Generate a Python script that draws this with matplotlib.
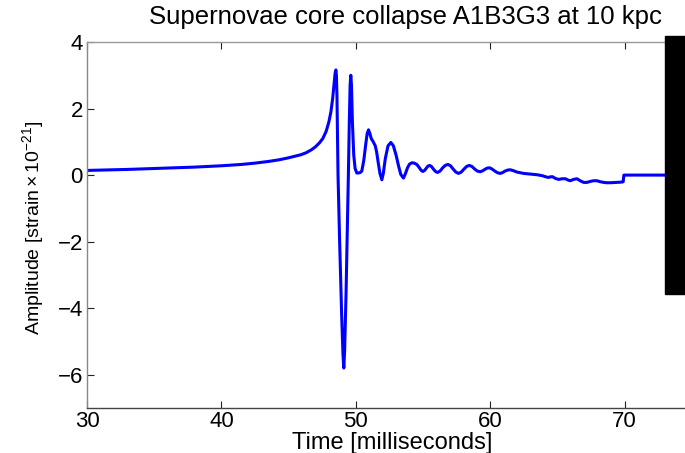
import numpy as np
import matplotlib
matplotlib.use("Agg")
import matplotlib.pyplot as plt
from matplotlib.patches import Rectangle

plt.rcParams["font.family"] = ["Liberation Sans", "DejaVu Sans"]
plt.rcParams["mathtext.fontset"] = "custom"
plt.rcParams["mathtext.rm"] = "Liberation Sans"
plt.rcParams["mathtext.default"] = "regular"

# waveform (time in ms, amplitude in 1e-21 strain)
time_ms = [
    30.0, 33.0, 36.0, 38.0, 40.0, 41.5, 42.5, 43.5, 44.3, 45.0, 45.5, 45.9,
    46.3, 46.7, 47.0, 47.3, 47.55, 47.8, 48.0, 48.15, 48.28, 48.38,
    48.46, 48.52, 48.56, 48.6, 48.64, 48.68, 48.8, 48.95, 49.05,
    49.11, 49.17, 49.28, 49.38, 49.45, 49.52, 49.58, 49.63, 49.68, 49.75,
    49.85, 49.95, 50.08, 50.3, 50.45, 50.6, 50.75, 50.85, 50.95, 51.05,
    51.15, 51.3, 51.45, 51.55, 51.68, 51.8, 51.94, 52.05, 52.2, 52.4, 52.61,
    52.8, 53.0, 53.2, 53.35, 53.55, 53.7, 53.85, 54.0, 54.17, 54.35, 54.54,
    54.7, 54.85, 54.99, 55.12, 55.25, 55.37, 55.49, 55.63, 55.78, 55.93,
    56.08, 56.27, 56.45, 56.65, 56.86, 57.05, 57.25, 57.45, 57.65, 57.85,
    58.05, 58.25, 58.44, 58.65, 58.85, 59.05, 59.26, 59.45, 59.6, 59.78,
    59.96, 60.15, 60.35, 60.55, 60.75, 60.95, 61.1, 61.3, 61.5, 61.75, 62.0,
    62.5, 63.0, 63.5, 63.9, 64.2, 64.35, 64.5, 64.65, 64.85, 65.1, 65.35,
    65.6, 65.8, 65.96, 66.2, 66.46, 66.7, 66.96, 67.2, 67.45, 67.7, 67.95,
    68.2, 68.45, 68.7, 68.94, 69.4, 69.81, 69.9, 69.95, 75.0,
]
amplitude = [
    0.14, 0.17, 0.21, 0.24, 0.28, 0.32, 0.36, 0.41, 0.46, 0.52, 0.57, 0.61,
    0.67, 0.76, 0.85, 0.97, 1.1, 1.32, 1.6, 1.9, 2.3, 2.7,
    3.05, 3.16, 3.0, 2.4, 1.2, 0.0, -2.0, -4.2, -5.4,
    -5.8, -5.3, -3.5, -1.5, 0.0, 1.6, 2.7, 3.0, 2.7, 1.6,
    0.6, 0.2, 0.06, 0.07, 0.12, 0.45, 0.95, 1.25, 1.36, 1.25,
    1.1, 1.0, 0.88, 0.7, 0.35, 0.05, -0.14, 0.05, 0.5, 0.88, 0.98,
    0.88, 0.6, 0.25, 0.02, -0.09, 0.05, 0.22, 0.33, 0.37, 0.36, 0.32,
    0.24, 0.15, 0.11, 0.14, 0.21, 0.27, 0.29, 0.26, 0.18, 0.11,
    0.08, 0.12, 0.21, 0.29, 0.32, 0.28, 0.18, 0.09, 0.05, 0.09,
    0.18, 0.26, 0.29, 0.26, 0.18, 0.12, 0.1, 0.13, 0.17, 0.21,
    0.22, 0.18, 0.12, 0.07, 0.05, 0.08, 0.12, 0.15, 0.16, 0.13, 0.09,
    0.05, 0.03, 0.01, -0.02, -0.06, -0.07, -0.05, -0.05, -0.1, -0.13, -0.11,
    -0.11, -0.15, -0.17, -0.13, -0.11, -0.17, -0.22, -0.22, -0.19, -0.17, -0.17,
    -0.2, -0.22, -0.23, -0.23, -0.22, -0.21, -0.2, 0.0, 0.0,
]

xticks = [30, 40, 50, 60, 70]
yticks = [-6, -4, -2, 0, 2, 4]

W, H = 685, 453
fig = plt.figure(figsize=(W / 100, H / 100), dpi=100)
ax = fig.add_axes([87 / W, 1 - 408 / H, 1 - 87 / W, (408 - 42) / H])

ax.plot(time_ms, amplitude, color="#0000ff", lw=2.2,
        solid_joinstyle="round", solid_capstyle="round")
ax.set_xlim(30, 74.5)
ax.set_ylim(-7, 4)
ax.set_xticks(xticks)
ax.set_yticks(yticks)
ax.set_yticklabels([f"{v}".replace("-", "\u2212") for v in yticks])

ax.tick_params(direction="in", length=5, width=0.8, labelsize=16, top=True,
               color="#222222", pad=3)
ax.tick_params(axis="x", pad=2)
ax.spines["right"].set_visible(False)
ax.spines["top"].set_color("#999999")
ax.spines["left"].set_color("#888888")
ax.spines["bottom"].set_color("#444444")
for s in ax.spines.values():
    s.set_linewidth(1.0)

fig.text(405 / W, 1 - 17 / H, "Supernovae core collapse A1B3G3 at 10 kpc",
         ha="center", va="center", fontsize=18.5)
fig.text(392 / W, 1 - 443 / H, "Time [milliseconds]",
         ha="center", va="center", fontsize=17)
fig.text(33 / W, 1 - 228 / H,
         "Amplitude [strain$\\,$\u00d7$\\,$10$^{\u221221}$]",
         ha="center", va="center", rotation=90, fontsize=14)

# dark strip cut into the right edge of the screenshot
fig.patches.append(Rectangle((665 / W, 1 - 294 / H), 20 / W, (294 - 36) / H,
                             transform=fig.transFigure, color="black",
                             zorder=10))

fig.savefig("out.png", dpi=100)
